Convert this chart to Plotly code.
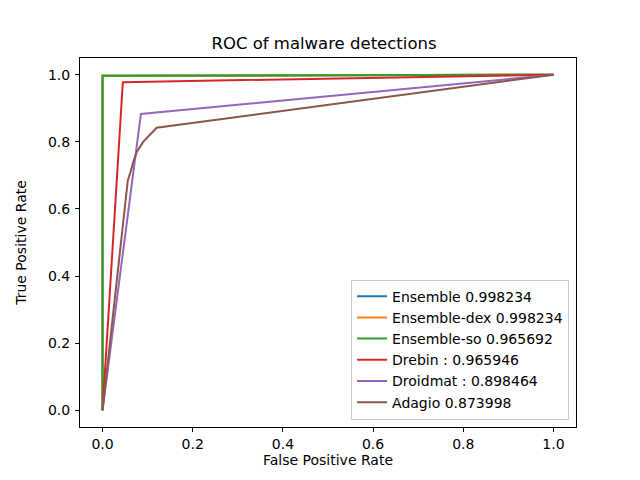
import plotly.graph_objects as go

# ROC points
ens_fpr = [0.0, 0.0, 1.0]
ens_tpr = [0.0, 0.997, 1.0]
dex_fpr = [0.0, 0.0, 1.0]
dex_tpr = [0.0, 0.997, 1.0]
so_fpr = [0.0, 0.0, 1.0]
so_tpr = [0.0, 0.997, 1.0]
drebin_fpr = [0.0, 0.045, 1.0]
drebin_tpr = [0.0, 0.978, 1.0]
droidmat_fpr = [0.0, 0.085, 1.0]
droidmat_tpr = [0.0, 0.883, 1.0]
adagio_fpr = [0.0, 0.056, 0.062, 0.068, 0.076, 0.09, 0.12, 1.0]
adagio_tpr = [0.0, 0.685, 0.71, 0.74, 0.77, 0.80, 0.842, 1.0]

names = ["Ensemble 0.998234", "Ensemble-dex 0.998234", "Ensemble-so 0.965692",
         "Drebin : 0.965946", "Droidmat : 0.898464", "Adagio 0.873998"]
colors = ["#1f77b4", "#ff7f0e", "#2ca02c", "#d62728", "#9467bd", "#8c564b"]
curves = [(ens_fpr, ens_tpr), (dex_fpr, dex_tpr), (so_fpr, so_tpr),
          (drebin_fpr, drebin_tpr), (droidmat_fpr, droidmat_tpr),
          (adagio_fpr, adagio_tpr)]

fig = go.Figure()
for (fpr, tpr), name, c in zip(curves, names, colors):
    fig.add_trace(go.Scatter(x=fpr, y=tpr, mode="lines", name=name,
                             line=dict(color=c, width=2)))

axis = dict(showline=True, mirror=True, linecolor="black", linewidth=1,
            ticks="outside", ticklen=4, tickwidth=1, tickcolor="black",
            showgrid=False, zeroline=False, range=[-0.05, 1.05],
            tickvals=[0, 0.2, 0.4, 0.6, 0.8, 1.0],
            ticktext=["0.0", "0.2", "0.4", "0.6", "0.8", "1.0"],
            tickfont=dict(size=14, color="black"))

# page body adds ~8px offset, so margins are shifted up/left
fig.update_layout(
    width=632, height=472,
    margin=dict(l=72, r=64, t=50, b=53),
    paper_bgcolor="white", plot_bgcolor="white",
    font=dict(family="DejaVu Sans", size=14, color="black"),
    title=dict(text="ROC of malware detections", x=0.5, xanchor="center",
               y=1 - 35 / 472, yanchor="middle", font=dict(size=16.5)),
    xaxis=dict(axis, title=dict(text="False Positive Rate", standoff=4,
                                font=dict(size=14))),
    yaxis=dict(axis, ticklabelstandoff=2,
               title=dict(text="True Positive Rate", standoff=18,
                          font=dict(size=14))),
    legend=dict(x=0.986, y=0.02, xanchor="right", yanchor="bottom",
                bgcolor="rgba(255,255,255,0.8)", bordercolor="#cccccc",
                borderwidth=1, font=dict(size=14), tracegroupgap=0),
    hovermode=False,
)

fig.write_html("out.html")
